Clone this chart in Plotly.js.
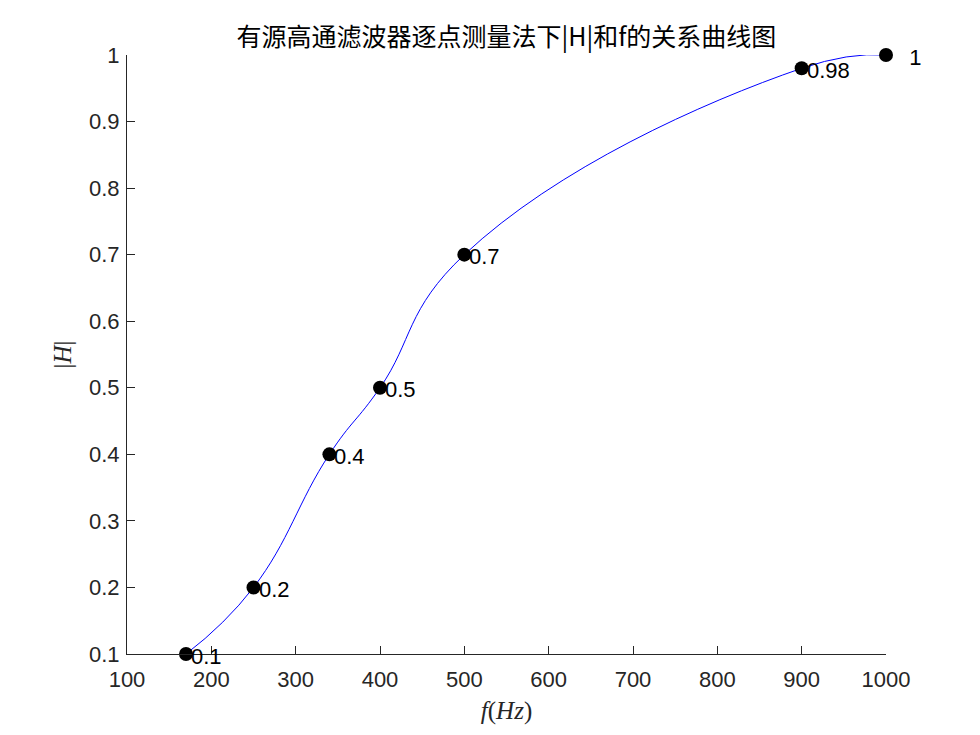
<!DOCTYPE html>
<html>
<head>
<meta charset="utf-8">
<script src="https://cdn.plot.ly/plotly-3.0.1.min.js"></script>
<style>
  body { margin: 0; background: #fff; }
  #plot { width: 980px; height: 735px; }
</style>
</head>
<body>
<div id="plot"></div>
<script>
// measured points, |H| against f in Hz
const freq = [170, 250, 340, 400, 500, 900, 1000];
const gain = [0.1, 0.2, 0.4, 0.5, 0.7, 0.98, 1];
const gainLabels = ['0.1', '0.2', '0.4', '0.5', '0.7', '0.98', '\u00a0\u00a0\u00a01'];

const xTicks = [100, 200, 300, 400, 500, 600, 700, 800, 900, 1000];
const yTicks = [0.1, 0.2, 0.3, 0.4, 0.5, 0.6, 0.7, 0.8, 0.9, 1];

const axisColor = '#262626';
const sans = 'Liberation Sans, Arial, sans-serif';
const serif = 'Liberation Serif, DejaVu Serif, serif';

let curve = {
    x: freq,
    y: gain,
    type: 'scatter',
    mode: 'lines',
    line: {color: '#0000ff', width: 1, shape: 'spline', smoothing: 1.3},
    cliponaxis: false,
    hoverinfo: 'skip',
};

let points = {
    x: freq,
    y: gain,
    type: 'scatter',
    mode: 'markers',
    marker: {color: '#000', size: 14},
    cliponaxis: false,
};

// value labels, written just right of each point like text(x, y, ...)
let labels = freq.map((f, i) => ({
    x: f,
    y: gain[i],
    text: gainLabels[i],
    showarrow: false,
    xanchor: 'left',
    yanchor: 'middle',
    xshift: 3,
    yshift: -2,
    font: {family: sans, size: 22, color: '#000'},
}));

let layout = {
    width: 980,
    height: 735,
    margin: {l: 127, r: 94, t: 55, b: 81},
    paper_bgcolor: '#fff',
    plot_bgcolor: '#fff',
    showlegend: false,
    font: {family: sans, color: axisColor},
    annotations: labels,
    title: {
        text: '有源高通滤波器逐点测量法下|H|和f的关系曲线图',
        font: {family: 'Noto Sans CJK SC, sans-serif', size: 25, color: '#000'},
        x: 0.5168, xanchor: 'center',
        y: 0.95, yanchor: 'middle',
    },
    xaxis: {
        range: [100, 1000],
        tickvals: xTicks,
        ticktext: xTicks.map(String),
        ticks: 'inside',
        ticklen: 8,
        tickcolor: axisColor,
        ticklabelstandoff: 6,
        showline: true,
        linecolor: axisColor,
        linewidth: 1,
        showgrid: false,
        zeroline: false,
        tickfont: {size: 22, color: axisColor},
        title: {
            text: '<i>f</i>(<i>Hz</i>)',
            font: {family: serif, size: 25, color: axisColor},
            standoff: 10,
        },
    },
    yaxis: {
        range: [0.1, 1],
        tickvals: yTicks,
        ticktext: yTicks.map(String),
        ticks: 'inside',
        ticklen: 8,
        tickcolor: axisColor,
        ticklabelstandoff: 2,
        showline: true,
        linecolor: axisColor,
        linewidth: 1,
        showgrid: false,
        zeroline: false,
        tickfont: {size: 22, color: axisColor},
        title: {
            text: '|<i>H</i>|',
            font: {family: serif, size: 25, color: axisColor},
            standoff: 10,
        },
    },
};

Plotly.newPlot('plot', [curve, points], layout, {displayModeBar: false, staticPlot: true});
</script>
</body>
</html>
